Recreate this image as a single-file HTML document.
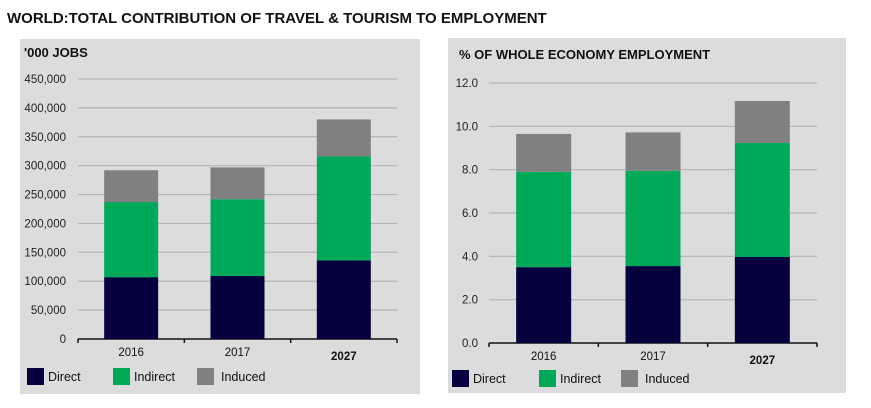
<!DOCTYPE html>
<html><head><meta charset="utf-8"><style>
body{margin:0;width:871px;height:403px;background:#fff;overflow:hidden;font-family:"Liberation Sans",sans-serif;}
svg text{font-family:"Liberation Sans",sans-serif;}
</style></head><body>
<svg id="s" width="871" height="403">
<text x="7" y="23" font-size="15" font-weight="bold" fill="#111">WORLD:TOTAL CONTRIBUTION OF TRAVEL &amp; TOURISM TO EMPLOYMENT</text>
<rect x="20" y="39" width="400" height="355" fill="#dcdcdc"/>
<rect x="448" y="38" width="398" height="355" fill="#dcdcdc"/>
<text x="24" y="57" font-size="13" font-weight="bold" fill="#111">'000 JOBS</text>
<text x="459" y="59" font-size="13" font-weight="bold" fill="#111">% OF WHOLE ECONOMY EMPLOYMENT</text>
<g id="g1"></g><g id="g2"></g>
</svg>
<script>
const categories=["2016","2017","2027"];
const jobsDirect=[107000,109000,136000];
const jobsIndirect=[130000,133000,180000];
const jobsInduced=[55000,55000,64000];
const jobsTicks=[0,50000,100000,150000,200000,250000,300000,350000,400000,450000];
const pctDirect=[3.5,3.55,3.97];
const pctIndirect=[4.4,4.4,5.26];
const pctInduced=[1.75,1.77,1.94];
const pctTicks=[0,2,4,6,8,10,12];
const seriesNames=["Direct","Indirect","Induced"];
const colors=["#07003f","#00a85a","#808080"];
const NS="http://www.w3.org/2000/svg";
function mk(p,t,a){const e=document.createElementNS(NS,t);for(const k in a)e.setAttribute(k,a[k]);p.appendChild(e);return e;}
function draw(g,o,series,ticks,fmt){
  const y=v=>o.y0-(v-ticks[0])/(ticks[ticks.length-1]-ticks[0])*(o.y0-o.y1);
  ticks.forEach((t,i)=>{
    if(i>0){const l=mk(g,'line',{x1:o.ax0,x2:o.ax1,y1:y(t),y2:y(t),stroke:'#b4b4b4','stroke-width':1.2});
    
    }
    const tx=mk(g,'text',{x:o.lx,y:y(t)+4,'font-size':11.5,'text-anchor':'end',fill:'#222'});tx.textContent=fmt(t);
    
    
  });
  const ax=mk(g,'line',{x1:o.ax0,x2:o.ax1,y1:o.y0,y2:o.y0,stroke:'#111','stroke-width':1.5});
  
  
  const bw=(o.ax1-o.ax0)/categories.length;
  for(let i=0;i<=categories.length;i++){const tk=mk(g,'line',{x1:o.ax0+i*bw,x2:o.ax0+i*bw,y1:o.y0,y2:o.y0+4,stroke:'#111','stroke-width':1.5});
    
    }
  categories.forEach((c,i)=>{
    let base=0;const cx=o.ax0+bw*(i+0.5);
    series.forEach((s,j)=>{
      const r=mk(g,'rect',{x:cx-o.w/2,y:y(base+s[i]),width:o.w,height:y(base)-y(base+s[i]),fill:colors[j]});
      
      
      base+=s[i];
    });
    const t=mk(g,'text',{x:cx,y:o.y0+(i==2?21:17),'font-size':11.5,'text-anchor':'middle',fill:'#111','font-weight':i==2?'bold':'normal'});t.textContent=c;
    
    
  });
  seriesNames.forEach((n,j)=>{
    const r=mk(g,'rect',{x:o.leg[j],y:o.ly,width:17,height:17,fill:colors[j]});
    
    
    const t=mk(g,'text',{x:o.leg[j]+(j==2?24:21),y:o.ly+13,'font-size':12.5,fill:'#111'});t.textContent=n;
    
    
  });
}
draw(document.getElementById('g1'),{y0:339,y1:79,ax0:78,ax1:397,lx:66,w:54,leg:[27,113,197],ly:368},[jobsDirect,jobsIndirect,jobsInduced],jobsTicks,v=>v.toLocaleString('en-US'));
draw(document.getElementById('g2'),{y0:343,y1:83,ax0:489,ax1:817,lx:478,w:55,leg:[452,539,621],ly:370},[pctDirect,pctIndirect,pctInduced],pctTicks,v=>v.toFixed(1));
</script>
</body></html>
